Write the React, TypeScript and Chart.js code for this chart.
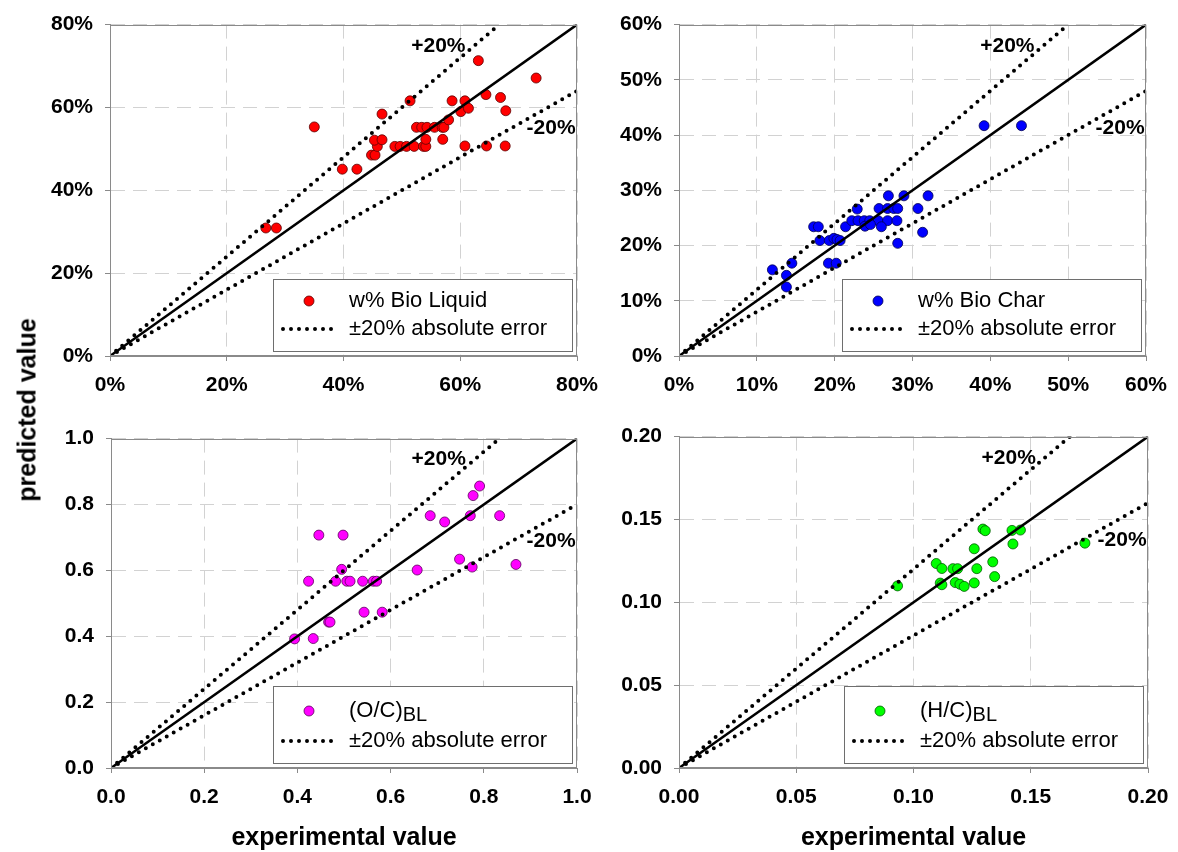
import React, { useEffect, useRef } from 'react';
import { Chart, registerables } from 'chart.js';
Chart.register(...registerables);

// ---------- Data ----------
const liquidExp = [26.7, 28.5, 35.0, 39.8, 42.3, 44.8, 45.4, 45.8, 45.3, 46.6, 46.6, 51.4, 48.8, 49.7, 50.8, 52.1, 53.7, 54.1, 52.5, 53.4, 54.3, 55.6, 56.9, 57.2, 54.1, 57.0, 58.0, 58.6, 60.8, 60.1, 61.4, 60.8, 63.1, 64.4, 64.5, 67.7, 66.9, 67.8, 73.0];
const liquidPred = [30.9, 30.9, 55.3, 45.1, 45.1, 48.5, 48.5, 50.6, 52.1, 52.2, 58.4, 61.6, 50.6, 50.6, 50.6, 50.6, 50.6, 50.6, 55.2, 55.2, 55.2, 55.2, 55.2, 55.2, 52.3, 52.3, 57.0, 61.6, 61.6, 59.0, 59.8, 50.7, 71.3, 63.1, 50.7, 50.7, 62.4, 59.2, 67.1];

const charExp = [12.0, 13.8, 13.8, 14.5, 17.3, 17.9, 18.1, 19.3, 19.9, 20.3, 20.7, 19.2, 20.2, 21.4, 22.9, 22.2, 23.0, 23.8, 24.5, 25.6, 26.8, 28.0, 23.9, 24.6, 26.0, 25.7, 26.8, 27.6, 28.1, 26.9, 28.9, 28.1, 30.7, 31.3, 32.0, 39.2, 44.0];
const charPred = [15.6, 14.6, 12.5, 16.8, 23.4, 23.4, 20.9, 20.9, 21.3, 21.1, 20.9, 16.8, 16.8, 23.4, 26.6, 24.5, 24.5, 24.5, 24.5, 24.5, 24.5, 24.5, 23.5, 23.8, 23.4, 26.7, 26.7, 26.7, 26.7, 29.0, 29.0, 20.4, 26.7, 22.4, 29.0, 41.7, 41.7];

const ocExp = [0.394, 0.434, 0.424, 0.446, 0.498, 0.467, 0.470, 0.482, 0.495, 0.506, 0.513, 0.540, 0.563, 0.570, 0.543, 0.582, 0.657, 0.685, 0.716, 0.748, 0.775, 0.771, 0.777, 0.791, 0.834, 0.869];
const ocPred = [0.392, 0.393, 0.567, 0.707, 0.707, 0.443, 0.443, 0.567, 0.603, 0.567, 0.567, 0.567, 0.567, 0.567, 0.473, 0.473, 0.601, 0.766, 0.747, 0.634, 0.610, 0.766, 0.827, 0.856, 0.766, 0.618];

const hcExp = [0.0932, 0.1097, 0.1121, 0.1114, 0.1121, 0.1168, 0.1188, 0.1178, 0.1198, 0.1216, 0.1259, 0.1270, 0.1259, 0.1296, 0.1306, 0.1338, 0.1346, 0.1420, 0.1456, 0.1424, 0.1731];
const hcPred = [0.1099, 0.1234, 0.1204, 0.1116, 0.1106, 0.1203, 0.1203, 0.1119, 0.1109, 0.1096, 0.1323, 0.1203, 0.1117, 0.1442, 0.1432, 0.1244, 0.1155, 0.1434, 0.1436, 0.1352, 0.1357];

// Reference lines (1:1, +20 %, -20 %) endpoints in data units
const liquidDiag = [0, 80];
const liquidPlusX = [0, 66.67];
const liquidMinusY = [0, 64];
const charDiag = [0, 60];
const charPlusX = [0, 50];
const charMinusY = [0, 48];
const ocDiag = [0, 1];
const ocPlusX = [0, 0.8333];
const ocMinusY = [0, 0.8];
const hcDiag = [0, 0.2];
const hcPlusX = [0, 0.16667];
const hcMinusY = [0, 0.16];

// Tick labels
const liquidTicks = ['0%', '20%', '40%', '60%', '80%'];
const charTicks = ['0%', '10%', '20%', '30%', '40%', '50%', '60%'];
const ocTicks = ['0.0', '0.2', '0.4', '0.6', '0.8', '1.0'];
const hcTicks = ['0.00', '0.05', '0.10', '0.15', '0.20'];

// Legend texts
const legendNames = ['w% Bio Liquid', 'w% Bio Char', '(O/C)', '(H/C)'];
const legendSubs = ['', '', 'BL', 'BL'];
const errorLabel = '\u00b120% absolute error';
const plusLabel = '+20%';
const minusLabel = '-20%';
const xTitle = 'experimental value';
const yTitle = 'predicted value';

const FONT = '"Liberation Sans", Arial, Helvetica, sans-serif';

type PanelProps = {
  L: number; T: number; W: number; H: number;
  xs: number[]; ys: number[];
  diag: number[]; plusX: number[]; minusY: number[];
  max: number; step: number; ticks: string[];
  color: string; border: string;
  name: string; sub: string;
  showTitle: boolean;
};

const PAD_L = 110, PAD_T = 19, PAD_R = 45, PAD_B = 85;

const overlayPlugin = {
  id: 'overlay',
  afterDatasetsDraw(chart: any, _args: any, opts: any) {
    const { ctx, chartArea: a } = chart;
    ctx.save();
    // frame
    ctx.strokeStyle = '#8a8a8a';
    ctx.lineWidth = 1;
    ctx.setLineDash([]);
    ctx.strokeRect(Math.round(a.left) + 0.5, Math.round(a.top) + 0.5, Math.round(a.width) - 1, Math.round(a.height) - 1);

    // +20% / -20% labels
    ctx.fillStyle = '#000';
    ctx.font = `bold 21px ${FONT}`;
    ctx.textBaseline = 'middle';
    ctx.textAlign = 'left';
    ctx.fillText(plusLabel, a.left + 0.645 * a.width, a.top + 0.064 * a.height);
    ctx.textAlign = 'right';
    ctx.fillText(minusLabel, a.left + 0.997 * a.width, a.top + 0.313 * a.height);

    // legend box
    const hasSub = !!opts.sub;
    const bw = 299;
    const bh = hasSub ? 77 : 72;
    const bx = Math.round(a.right - 5 - bw);
    const by = Math.round(a.bottom - 5 - bh);
    ctx.fillStyle = '#fff';
    ctx.fillRect(bx, by, bw, bh);
    ctx.strokeStyle = '#6e6e6e';
    ctx.lineWidth = 1;
    ctx.strokeRect(bx + 0.5, by + 0.5, bw, bh);
    const r1 = by + (hasSub ? 25 : 22);
    const r2 = by + (hasSub ? 55 : 50);
    // marker
    ctx.beginPath();
    ctx.arc(bx + 36, r1, 5, 0, Math.PI * 2);
    ctx.fillStyle = opts.color;
    ctx.fill();
    ctx.lineWidth = 0.8;
    ctx.strokeStyle = opts.border;
    ctx.stroke();
    // text row 1
    ctx.fillStyle = '#000';
    ctx.textAlign = 'left';
    ctx.textBaseline = 'middle';
    ctx.font = `22px ${FONT}`;
    ctx.fillText(opts.name, bx + 76, r1);
    if (hasSub) {
      const w = ctx.measureText(opts.name).width;
      ctx.font = `20px ${FONT}`;
      ctx.fillText(opts.sub, bx + 76 + w, r1 + 4);
      ctx.font = `22px ${FONT}`;
    }
    // dotted sample
    ctx.save();
    ctx.strokeStyle = '#000';
    ctx.lineWidth = 4;
    ctx.lineCap = 'round';
    ctx.setLineDash([0, 8]);
    ctx.beginPath();
    ctx.moveTo(bx + 10, r2);
    ctx.lineTo(bx + 60, r2);
    ctx.stroke();
    ctx.restore();
    ctx.fillText(errorLabel, bx + 76, r2);
    ctx.restore();
  },
};

function Panel(p: PanelProps) {
  const ref = useRef<HTMLCanvasElement | null>(null);
  const cw = p.W + PAD_L + PAD_R;
  const ch = p.H + PAD_T + PAD_B;
  useEffect(() => {
    if (!ref.current) return;
    const pts = p.xs.map((x, i) => ({ x, y: p.ys[i] }));
    const diagData = p.diag.map((v) => ({ x: v, y: v }));
    const plusData = p.plusX.map((v, i) => ({ x: v, y: p.diag[i] }));
    const minusData = p.diag.map((v, i) => ({ x: v, y: p.minusY[i] }));
    const lineStyle = {
      showLine: true, pointRadius: 0, borderColor: '#000', fill: false,
    };
    const axisCommon = (isX: boolean) => ({
      type: 'linear' as const,
      position: isX ? ('bottom' as const) : ('left' as const),
      min: 0,
      max: p.max,
      afterFit: (s: any) => {
        if (isX) s.height = PAD_B; else s.width = PAD_L;
      },
      ticks: {
        stepSize: p.step,
        autoSkip: false,
        maxRotation: 0,
        padding: 12,
        color: '#000',
        font: { family: FONT, size: 21, weight: 'bold' as const },
        callback: (_v: any, i: number) => p.ticks[i] ?? '',
      },
      grid: {
        color: '#d2d2d2',
        lineWidth: 1,
        drawTicks: true,
        tickLength: 5,
        tickColor: '#8a8a8a',
        tickWidth: 1,
        tickBorderDash: [],
      },
      border: { display: true, color: '#8a8a8a', width: 1, dash: [14, 8] },
      title: isX && p.showTitle
        ? { display: true, text: xTitle, color: '#000', padding: 0, font: { family: FONT, size: 25, weight: 'bold' as const } }
        : { display: false },
    });
    const chart = new Chart(ref.current, {
      type: 'scatter',
      data: {
        datasets: [
          { ...lineStyle, data: diagData, borderWidth: 2.5, order: 0 } as any,
          { ...lineStyle, data: plusData, borderWidth: 4, borderDash: [0, 8], borderCapStyle: 'round', order: 0 } as any,
          { ...lineStyle, data: minusData, borderWidth: 4, borderDash: [0, 8], borderCapStyle: 'round', order: 0 } as any,
          {
            label: p.name + p.sub,
            data: pts,
            pointRadius: 5,
            pointBackgroundColor: p.color,
            pointBorderColor: p.border,
            pointBorderWidth: 0.8,
            backgroundColor: p.color,
            borderColor: p.border,
            order: 1,
          } as any,
        ],
      },
      options: {
        responsive: false,
        animation: false,
        events: [],
        layout: { padding: { left: 0, top: PAD_T, right: PAD_R, bottom: 0 } },
        plugins: {
          legend: { display: false },
          tooltip: { enabled: false },
          overlay: { name: p.name, sub: p.sub, color: p.color, border: p.border },
        } as any,
        scales: { x: axisCommon(true), y: axisCommon(false) } as any,
      },
      plugins: [overlayPlugin],
    });
    return () => chart.destroy();
  }, []);
  return (
    <canvas
      ref={ref}
      width={cw}
      height={ch}
      style={{ position: 'absolute', left: p.L - PAD_L, top: p.T - PAD_T, width: cw, height: ch }}
    />
  );
}

export default function App() {
  return (
    <div style={{ position: 'absolute', left: 0, top: 0, width: 1178, height: 852, overflow: 'hidden', background: '#fff' }}>
      <Panel L={110} T={19} W={467} H={337} xs={liquidExp} ys={liquidPred} diag={liquidDiag} plusX={liquidPlusX} minusY={liquidMinusY}
        max={80} step={20} ticks={liquidTicks} color="#ff0000" border="#5a0000" name={legendNames[0]} sub={legendSubs[0]} showTitle={false} />
      <Panel L={679} T={19} W={467} H={337} xs={charExp} ys={charPred} diag={charDiag} plusX={charPlusX} minusY={charMinusY}
        max={60} step={10} ticks={charTicks} color="#0000ff" border="#000050" name={legendNames[1]} sub={legendSubs[1]} showTitle={false} />
      <Panel L={111} T={433} W={466} H={335} xs={ocExp} ys={ocPred} diag={ocDiag} plusX={ocPlusX} minusY={ocMinusY}
        max={1} step={0.2} ticks={ocTicks} color="#ff00ff" border="#5a005a" name={legendNames[2]} sub={legendSubs[2]} showTitle={true} />
      <Panel L={679} T={431} W={469} H={337} xs={hcExp} ys={hcPred} diag={hcDiag} plusX={hcPlusX} minusY={hcMinusY}
        max={0.2} step={0.05} ticks={hcTicks} color="#00ff00" border="#005a00" name={legendNames[3]} sub={legendSubs[3]} showTitle={true} />
      <div
        style={{
          position: 'absolute', left: 27, top: 410, transform: 'translate(-50%, -50%) rotate(-90deg)',
          font: `bold 25px ${FONT}`, color: '#000', whiteSpace: 'nowrap',
        }}
      >
        {yTitle}
      </div>
    </div>
  );
}
